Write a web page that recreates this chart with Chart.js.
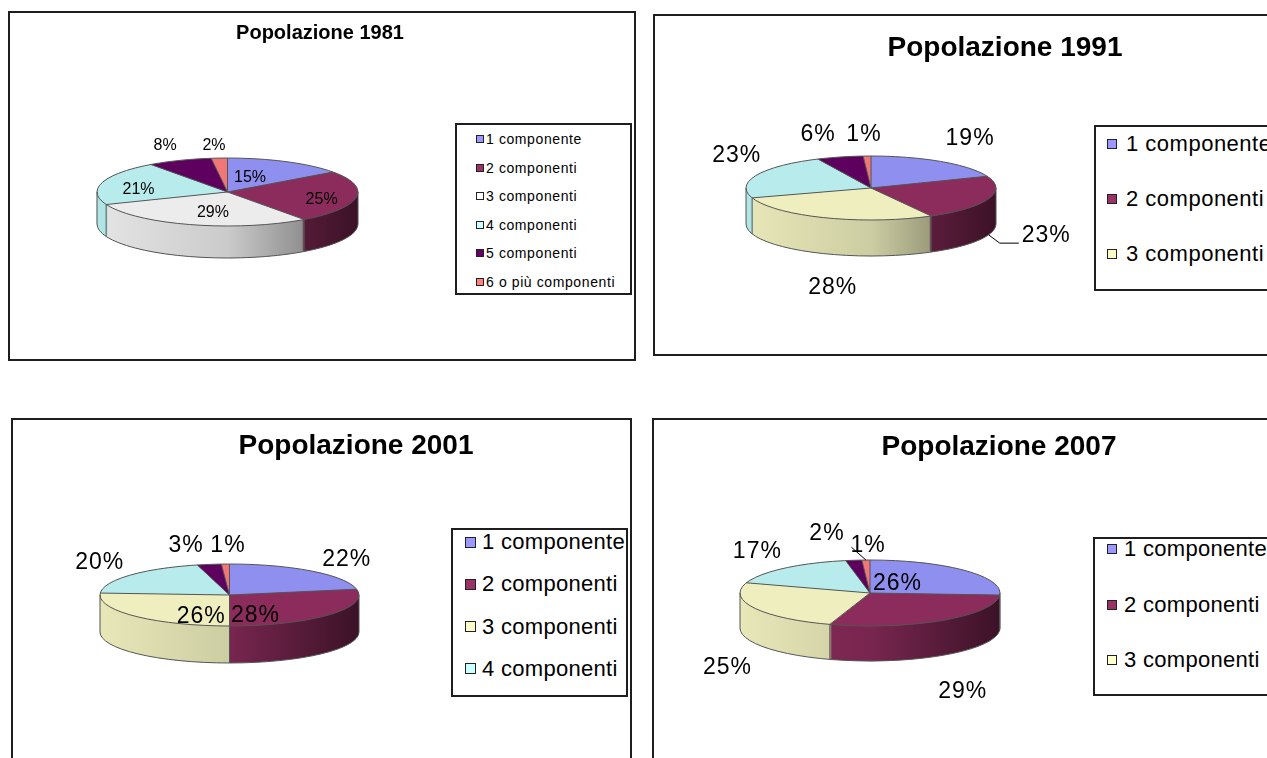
<!DOCTYPE html>
<html lang="it">
<head>
  <meta charset="UTF-8" />
  <title>Popolazione per numero di componenti</title>
  <style>
    body {
      margin: 0;
      width: 1267px;
      height: 758px;
      overflow: hidden;
      background: #fff;
      position: relative;
      font-family: "Liberation Sans", Arial, sans-serif;
    }
    .panel {
      position: absolute;
      border: 2px solid #1e1e1e;
      box-sizing: border-box;
      background: #fff;
    }
    canvas { position: absolute; }
    .title {
      position: absolute;
      width: 400px;
      text-align: center;
      font-weight: bold;
      line-height: 1;
      white-space: nowrap;
      color: #000;
    }
    .legend {
      position: absolute;
      border: 2px solid #1e1e1e;
      box-sizing: border-box;
      background: #fff;
      overflow: hidden;
    }
    .legend .sq {
      position: absolute;
      border: 1.5px solid #222;
      box-sizing: border-box;
    }
    .legend .txt {
      position: absolute;
      line-height: 1;
      white-space: nowrap;
      transform: translateY(-50%);
      color: #000;
    }
  </style>
  <script src="https://cdn.jsdelivr.net/npm/chart.js"></script>
</head>
<body>

<script>
  // ---- data ----
  const categories = ["1 componente", "2 componenti", "3 componenti", "4 componenti", "5 componenti", "6 o più componenti"];
  const values1981 = [15, 25, 29, 21, 8, 2];
  const values1991 = [19, 23, 28, 23, 6, 1];
  const values2001 = [22, 28, 26, 20, 3, 1];
  const values2007 = [26, 29, 25, 17, 2, 1];

  // ---- colours ----
  const faceColors = ["#8f8fef", "#8c2c5c", "#eeeebe", "#b8ecec", "#5e005e", "#ef7777"];
  const faceColors1981 = ["#8f8fef", "#8c2c5c", "#ececec", "#b8ecec", "#5e005e", "#ef7777"];
  const keyColors = ["#9999ff", "#993366", "#ffffcc", "#ccffff", "#660066", "#ff8080"];
  const keyColors1981 = ["#9999ff", "#993366", "#ffffff", "#ccffff", "#660066", "#ff8080"];

  // label placement (radial factors x / y on the squashed pie)
  const labelPos1981 = [[0.38, 0.46], [0.73, 1.5], [0.40, 0.64], [0.71, 0.21], [1.30, 1.46], [1.65, 1.36]];
  const labelPos1991 = [[1.41, 1.85], [1.49, 4.44], [0.83, 3.36], [1.17, 2.52], [1.70, 1.73], [1.79, 1.67]];
  const labelPos2001 = [[1.42, 1.46], [0.26, 1.07], [0.30, 1.0], [1.30, 1.62], [2.14, 1.60], [0.37, 1.58]];
  const labelPos2007 = [[0.29, 0.40], [1.27, 3.63], [1.23, 5.0], [1.31, 1.69], [2.64, 1.80], [0.49, 1.45]];

  const charts = [
    { title: "Popolazione 1981", values: values1981, colors: faceColors1981, keys: keyColors1981,
      panel: [8, 11, 628, 350], pie: { cx: 227.5, cy: 192, rx: 130.5, ry: 34, depth: 32 },
      titlePos: { x: 320, y: 32, size: 20 }, labelFont: 16, labelSpacing: 0, labelPos: labelPos1981, leaders: [],
      legend: { x: 455, y: 123, w: 177, h: 172, n: 6, first: 14, gap: 28.6, sq: 8, sqLeft: 19, textLeft: 29, font: 14, ls: 0.6 } },
    { title: "Popolazione 1991", values: values1991, colors: faceColors, keys: keyColors,
      panel: [653, 14, 640, 342], pie: { cx: 871, cy: 188, rx: 125, ry: 32, depth: 36 },
      titlePos: { x: 1005, y: 47, size: 28 }, labelFont: 23, labelSpacing: 1, labelPos: labelPos1991,
      leaders: [{ index: 1, type: "elbow" }],
      legend: { x: 1094, y: 125, w: 220, h: 166, n: 3, first: 17, gap: 55, sq: 10, sqLeft: 11, textLeft: 30, font: 22, ls: 0.5 } },
    { title: "Popolazione 2001", values: values2001, colors: faceColors, keys: keyColors,
      panel: [11, 418, 621, 360], pie: { cx: 229.5, cy: 595, rx: 129.5, ry: 31, depth: 37 },
      titlePos: { x: 356, y: 445, size: 28 }, labelFont: 23, labelSpacing: 1, labelPos: labelPos2001, leaders: [],
      legend: { x: 451, y: 528, w: 177, h: 169, n: 4, first: 12, gap: 42.3, sq: 11, sqLeft: 12, textLeft: 29, font: 22, ls: 0.3 } },
    { title: "Popolazione 2007", values: values2007, colors: faceColors, keys: keyColors,
      panel: [652, 418, 640, 360], pie: { cx: 870, cy: 593, rx: 130, ry: 33, depth: 35 },
      titlePos: { x: 999, y: 446, size: 28 }, labelFont: 23, labelSpacing: 1, labelPos: labelPos2007,
      leaders: [{ index: 5, type: "straight" }],
      legend: { x: 1093, y: 537, w: 220, h: 159, n: 3, first: 10, gap: 55.5, sq: 10, sqLeft: 12, textLeft: 29, font: 22, ls: 0.3 } }
  ];

  function shade(hex, f) {
    const n = parseInt(hex.slice(1), 16);
    const r = Math.round(((n >> 16) & 255) * f);
    const g = Math.round(((n >> 8) & 255) * f);
    const b = Math.round((n & 255) * f);
    return "rgb(" + r + "," + g + "," + b + ")";
  }

  // draws the pie squashed into an ellipse, with an extruded side wall
  const pie3d = {
    id: "pie3d",
    beforeDatasetsDraw(chart, args, o) {
      const ctx = chart.ctx;
      const arcs = chart.getDatasetMeta(0).data;
      if (!arcs.length) return;
      const { x, y, outerRadius: r } = arcs[0];
      const k = o.ry / r;
      const cols = chart.data.datasets[0].backgroundColor;
      const fills = arcs.map((arc, i) => {
        const g = ctx.createLinearGradient(x - r, 0, x + r, 0);
        g.addColorStop(0, shade(cols[i], 0.97));
        g.addColorStop(0.5, shade(cols[i], 0.86));
        g.addColorStop(0.8, shade(cols[i], 0.6));
        g.addColorStop(1, shade(cols[i], 0.42));
        return g;
      });
      for (let d = o.depth; d >= 1; d--) {
        ctx.save();
        ctx.translate(x, y + d);
        ctx.scale(1, k);
        ctx.translate(-x, -y);
        arcs.forEach((arc, i) => {
          const wall = Object.create(arc);
          wall.options = Object.assign({}, arc.options, { backgroundColor: fills[i], borderWidth: 0 });
          wall.draw(ctx);
        });
        ctx.restore();
      }
      ctx.save();
      ctx.translate(x, y);
      ctx.scale(1, k);
      ctx.translate(-x, -y);
    },
    afterDatasetsDraw(chart, args, o) {
      const ctx = chart.ctx;
      const arcs = chart.getDatasetMeta(0).data;
      if (!arcs.length) return;
      ctx.restore();
      const { x, y, outerRadius: r } = arcs[0];
      const ry = o.ry, dp = o.depth;

      // outlines
      ctx.save();
      ctx.strokeStyle = "#555";
      ctx.lineWidth = 1;
      ctx.beginPath();
      ctx.ellipse(x, y, r, ry, 0, 0, 2 * Math.PI);
      ctx.stroke();
      ctx.beginPath();
      ctx.ellipse(x, y + dp, r, ry, 0, 0, Math.PI);
      ctx.stroke();
      ctx.beginPath();
      ctx.moveTo(x - r, y); ctx.lineTo(x - r, y + dp);
      ctx.moveTo(x + r, y); ctx.lineTo(x + r, y + dp);
      arcs.forEach(arc => {
        const a = arc.startAngle;
        const px = x + r * Math.cos(a), py = y + ry * Math.sin(a);
        ctx.moveTo(x, y); ctx.lineTo(px, py);
        if (Math.sin(a) > 0.01) { ctx.moveTo(px, py); ctx.lineTo(px, py + dp); }
      });
      ctx.stroke();

      // percentage labels
      const values = chart.data.datasets[0].data;
      ctx.fillStyle = "#000";
      ctx.font = o.labelFont + "px 'Liberation Sans', Arial, sans-serif";
      ctx.letterSpacing = o.labelSpacing + "px";
      ctx.textAlign = "center";
      ctx.textBaseline = "middle";
      ctx.strokeStyle = "#000";
      arcs.forEach((arc, i) => {
        const m = (arc.startAngle + arc.endAngle) / 2;
        const [fx, fy] = o.labelPos[i];
        const lx = x + r * fx * Math.cos(m);
        const ly = y + ry * fy * Math.sin(m);
        const txt = values[i] + "%";
        ctx.fillText(txt, lx, ly);
        const lead = o.leaders.find(l => l.index === i);
        if (lead) {
          const w = ctx.measureText(txt).width;
          const left = lx - w / 2;
          ctx.beginPath();
          if (lead.type === "elbow") {
            ctx.moveTo(x + r * Math.cos(m), y + ry * Math.sin(m) + dp);
            ctx.lineTo(left - 22, ly + 7);
            ctx.lineTo(left - 3, ly + 7);
          } else {
            ctx.moveTo(x + r * Math.cos(m), y + ry * Math.sin(m));
            ctx.lineTo(left + 1, ly + 2);
          }
          ctx.stroke();
        }
      });
      ctx.restore();
    }
  };

  charts.forEach((c, idx) => {
    const [px, py, pw, ph] = c.panel;
    const panel = document.createElement("div");
    panel.className = "panel";
    Object.assign(panel.style, { left: px + "px", top: py + "px", width: pw + "px", height: ph + "px" });
    document.body.appendChild(panel);

    const canvas = document.createElement("canvas");
    const cl = px + 2, ct = py + 2;
    const W = pw - 4, H = ph - 4;
    canvas.width = W; canvas.height = H;
    Object.assign(canvas.style, { left: cl + "px", top: ct + "px", width: W + "px", height: H + "px" });
    document.body.appendChild(canvas);

    const t = document.createElement("div");
    t.className = "title";
    t.textContent = c.title;
    Object.assign(t.style, {
      left: (c.titlePos.x - 200) + "px",
      top: (c.titlePos.y - 0.49 * c.titlePos.size) + "px",
      fontSize: c.titlePos.size + "px"
    });
    document.body.appendChild(t);

    const lg = c.legend;
    const box = document.createElement("div");
    box.className = "legend";
    Object.assign(box.style, { left: lg.x + "px", top: lg.y + "px", width: lg.w + "px", height: lg.h + "px" });
    for (let i = 0; i < lg.n; i++) {
      const rowY = lg.first + i * lg.gap;
      const sq = document.createElement("div");
      sq.className = "sq";
      Object.assign(sq.style, {
        left: lg.sqLeft + "px", top: (rowY - lg.sq / 2) + "px",
        width: lg.sq + "px", height: lg.sq + "px", background: c.keys[i]
      });
      const tx = document.createElement("div");
      tx.className = "txt";
      tx.textContent = categories[i];
      Object.assign(tx.style, {
        left: lg.textLeft + "px", top: rowY + "px",
        fontSize: lg.font + "px", letterSpacing: lg.ls + "px"
      });
      box.appendChild(sq);
      box.appendChild(tx);
    }
    document.body.appendChild(box);

    const cx = c.pie.cx - cl, cy = c.pie.cy - ct, R = c.pie.rx;
    new Chart(canvas, {
      type: "pie",
      data: {
        labels: categories,
        datasets: [{
          data: c.values,
          backgroundColor: c.colors,
          borderWidth: 0,
          clip: false
        }]
      },
      options: {
        responsive: false,
        animation: false,
        events: [],
        layout: { padding: { left: cx - R, right: W - cx - R, top: cy - R, bottom: H - cy - R } },
        plugins: {
          legend: { display: false },
          tooltip: { enabled: false },
          title: { display: false },
          pie3d: {
            ry: c.pie.ry, depth: c.pie.depth,
            labelFont: c.labelFont, labelSpacing: c.labelSpacing,
            labelPos: c.labelPos, leaders: c.leaders
          }
        }
      },
      plugins: [pie3d]
    });
  });
</script>
</body>
</html>
